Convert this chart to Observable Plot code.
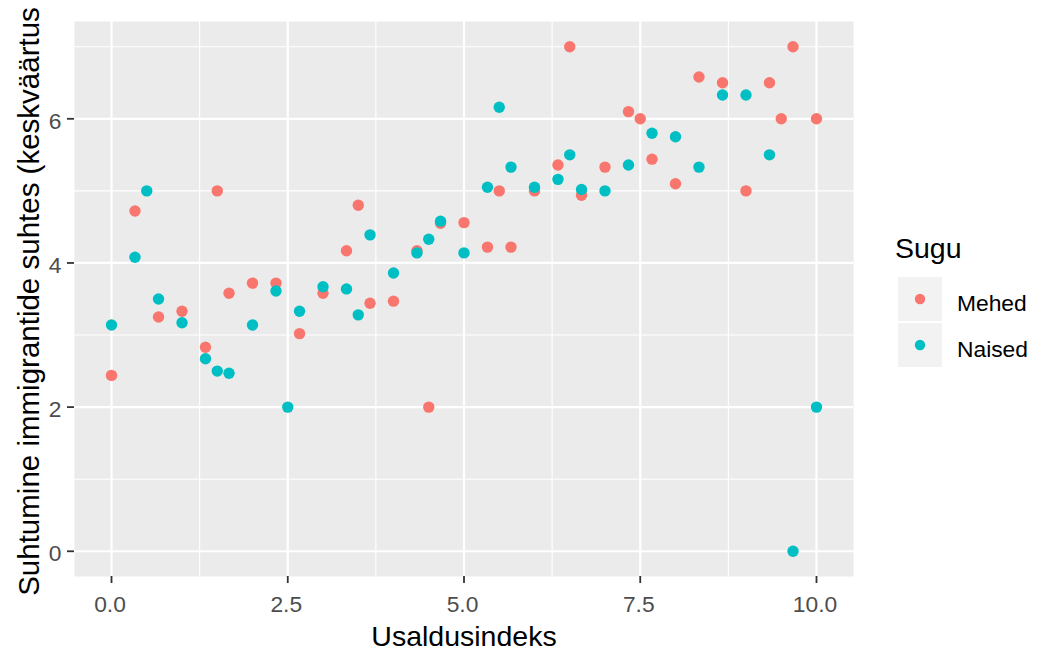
<!DOCTYPE html>
<html>
<head>
<meta charset="utf-8">
<script src="https://cdn.jsdelivr.net/npm/d3@7"></script>
<script src="https://cdn.jsdelivr.net/npm/@observablehq/plot@0.6"></script>
<style>
  html, body { margin: 0; padding: 0; background: white; }
  #wrap { position: relative; width: 1041px; height: 653px; font-family: 'Liberation Sans', Arial, sans-serif; }
  #legend .ttl { position: absolute; left: 895px; top: 234px; font-size: 28.5px; line-height: 28.5px; color: black; white-space: nowrap; }
  #legend .key { position: absolute; left: 898px; width: 44px; height: 44px; background: #F2F2F2; }
  #legend .lab { position: absolute; left: 957px; height: 44px; line-height: 44px; font-size: 22.8px; color: black; white-space: nowrap; }
</style>
</head>
<body>
<div id="wrap"><div id="legend"></div></div>
<script>
// Categories
const sexes = ["Mehed", "Naised"];
const sexColors = ["#F8766D", "#00BFC4"];

// Series: Mehed
const xMehed = [0, 0.333, 0.667, 1, 1.333, 1.5, 1.667, 2, 2.333, 2.667, 3, 3.333, 3.5, 3.667, 4, 4.333, 4.5, 4.667, 5, 5.333, 5.5, 5.667, 6, 6.333, 6.5, 6.667, 7, 7.333, 7.5, 7.667, 8, 8.333, 8.667, 9, 9.333, 9.5, 9.667, 10];
const yMehed = [2.44, 4.72, 3.25, 3.33, 2.83, 5.0, 3.58, 3.72, 3.72, 3.02, 3.58, 4.17, 4.8, 3.44, 3.47, 4.17, 2.0, 4.55, 4.56, 4.22, 5.0, 4.22, 5.0, 5.36, 7.0, 4.94, 5.33, 6.1, 6.0, 5.44, 5.1, 6.58, 6.5, 5.0, 6.5, 6.0, 7.0, 6.0];

// Series: Naised
const xNaised = [0, 0.333, 0.5, 0.667, 1, 1.333, 1.5, 1.667, 2, 2.333, 2.5, 2.667, 3, 3.333, 3.5, 3.667, 4, 4.333, 4.5, 4.667, 5, 5.333, 5.5, 5.667, 6, 6.333, 6.5, 6.667, 7, 7.333, 7.667, 8, 8.333, 8.667, 9, 9.333, 9.667, 10];
const yNaised = [3.14, 4.08, 5.0, 3.5, 3.17, 2.67, 2.5, 2.47, 3.14, 3.61, 2.0, 3.33, 3.67, 3.64, 3.28, 4.39, 3.86, 4.14, 4.33, 4.58, 4.14, 5.05, 6.16, 5.33, 5.05, 5.16, 5.5, 5.02, 5.0, 5.36, 5.8, 5.75, 5.33, 6.33, 6.33, 5.5, 0, 2.0];

// Ticks
const xMajor = [0, 2.5, 5, 7.5, 10];
const xMinor = [1.25, 3.75, 6.25, 8.75];
const yMajor = [0, 2, 4, 6];
const yMinor = [1, 3, 5, 7];
const xTickLabels = ["0.0", "2.5", "5.0", "7.5", "10.0"];
const yTickLabels = ["0", "2", "4", "6"];

// Titles (y title as visible in the reference)
const xTitle = "Usaldusindeks";
const yTitle = "Suhtumine immigrantide suhtes (keskväärtus";
const legendTitle = "Sugu";

const data = [
  ...xMehed.map((x, i) => ({x, y: yMehed[i], sugu: sexes[0]})),
  ...xNaised.map((x, i) => ({x, y: yNaised[i], sugu: sexes[1]}))
];

const plot = Plot.plot({
  width: 1041,
  height: 653,
  marginLeft: 74,
  marginRight: 188,
  marginTop: 21,
  marginBottom: 77,
  x: {domain: [-0.525, 10.525]},
  y: {domain: [-0.35, 7.35]},
  color: {domain: sexes, range: sexColors},
  style: {fontFamily: "'Liberation Sans', Arial, sans-serif", background: "white"},
  marks: [
    Plot.frame({fill: "#EBEBEB", stroke: null}),
    Plot.gridX(xMinor, {stroke: "white", strokeOpacity: 1, strokeWidth: 1.1}),
    Plot.gridY(yMinor, {stroke: "white", strokeOpacity: 1, strokeWidth: 1.1}),
    Plot.gridX(xMajor, {stroke: "white", strokeOpacity: 1, strokeWidth: 2.2}),
    Plot.gridY(yMajor, {stroke: "white", strokeOpacity: 1, strokeWidth: 2.2}),
    Plot.dot(data, {x: "x", y: "y", fill: "sugu", r: 5.7, stroke: null}),
    Plot.axisX(xMajor, {tickSize: 7, stroke: "#333333", strokeWidth: 1.8, fill: "none", label: null}),
    Plot.axisX(xMajor, {tickSize: 7, tickPadding: 12, stroke: "none", fill: "#4D4D4D", fontSize: 22.8, dx: -1.5,
      tickFormat: d => xTickLabels[xMajor.indexOf(d)], label: null}),
    Plot.axisY(yMajor, {tickSize: 7, stroke: "#333333", strokeWidth: 1.8, fill: "none", label: null}),
    Plot.axisY(yMajor, {tickSize: 7, tickPadding: 6, stroke: "none", fill: "#4D4D4D", fontSize: 22.8, dy: 2.5,
      tickFormat: d => yTickLabels[yMajor.indexOf(d)], label: null}),
    Plot.text([xTitle], {text: d => d, frameAnchor: "bottom", dy: 69, lineAnchor: "bottom", fontSize: 28.5, fill: "black"}),
    Plot.text([yTitle], {text: d => d, frameAnchor: "left", textAnchor: "middle", dx: -36, dy: 2.5, rotate: -90, lineAnchor: "bottom", fontSize: 29.5, fill: "black"})
  ]
});

const wrap = document.getElementById("wrap");
wrap.insertBefore(plot, wrap.firstChild);
plot.style.position = "absolute";
plot.style.left = "0px";
plot.style.top = "0px";

// Legend built from the plot's own color scale
const colorScale = plot.scale("color");
const legend = document.getElementById("legend");
const ttl = document.createElement("div");
ttl.className = "ttl";
ttl.textContent = legendTitle;
legend.appendChild(ttl);
colorScale.domain.forEach((s, i) => {
  const top = 276.5 + i * 46;
  const key = document.createElement("div");
  key.className = "key";
  key.style.top = top + "px";
  key.innerHTML = `<svg width="44" height="44"><circle cx="22" cy="22" r="5.2" fill="${colorScale.apply(s)}"></circle></svg>`;
  legend.appendChild(key);
  const lab = document.createElement("div");
  lab.className = "lab";
  lab.style.top = (top + 4) + "px";
  lab.textContent = s;
  legend.appendChild(lab);
});
</script>
</body>
</html>
